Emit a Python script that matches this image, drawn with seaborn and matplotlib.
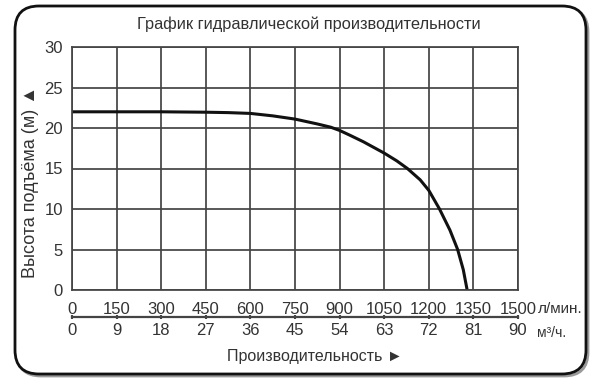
import matplotlib
matplotlib.use("Agg")
import matplotlib.pyplot as plt
import seaborn as sns
import pandas as pd
from matplotlib.patches import FancyBboxPatch

# ---- data ----
flow_lpm = [0, 150, 300, 450, 525, 600, 675, 750, 825, 870, 900, 935, 980, 1050, 1092, 1128,
            1171, 1200, 1236, 1271, 1297, 1316, 1329]
head_m = [22.0, 22.0, 22.0, 21.95, 21.9, 21.8, 21.5, 21.1, 20.5, 20.1, 19.7, 19.1, 18.3, 16.9, 15.95, 15.0,
          13.6, 12.3, 10.0, 7.4, 5.0, 2.5, 0.0]

lpm_ticks = [0, 150, 300, 450, 600, 750, 900, 1050, 1200, 1350, 1500]
m3h_ticks = [0, 9, 18, 27, 36, 45, 54, 63, 72, 81, 90]
head_ticks = [0, 5, 10, 15, 20, 25, 30]

title = "График гидравлической производительности"
ylabel = "Высота подъёма (м) ▲"
xlabel = "Производительность ►"
unit_lpm = "л/мин."
unit_m3h = "м³/ч."

sns.set_style("white")
plt.rcParams['font.family'] = ['Liberation Sans', 'DejaVu Sans']

W, H = 597, 391
fig = plt.figure(figsize=(W / 100, H / 100), dpi=100)

# background rounded frame
bg = fig.add_axes([0, 0, 1, 1], zorder=-1)
bg.set_xlim(0, W)
bg.set_ylim(H, 0)
bg.axis('off')
shadow = FancyBboxPatch((17, 8), 571, 368, boxstyle="round,pad=0,rounding_size=24",
                        fc='none', ec='#9a9a9a', lw=2.0)
bg.add_patch(shadow)
frame = FancyBboxPatch((15, 6), 571, 368, boxstyle="round,pad=0,rounding_size=24",
                       fc='white', ec='#111111', lw=2.0)
bg.add_patch(frame)

def px(x, y):
    return x / W, 1 - y / H

# main axes: x 72..518 px, y 47..290 px
ax = fig.add_axes([72 / W, 1 - 290 / H, 446 / W, 243 / H])
ax.set_facecolor('none')
df = pd.DataFrame({"flow": flow_lpm, "head": head_m})
sns.lineplot(data=df, x="flow", y="head", ax=ax, color='#111111', lw=2.2, sort=False)
ax.lines[-1].set_solid_joinstyle('round')

ax.set_xlim(0, 1500)
ax.set_ylim(0, 30)
ax.set_xticks(lpm_ticks)
ax.set_yticks(head_ticks)
ax.grid(True, color='#444444', lw=1.25)
for s in ax.spines.values():
    s.set_color('#444444')
    s.set_linewidth(1.25)
ax.tick_params(length=0, labelsize=12, colors='#333333')
ax.tick_params(axis='x', pad=8.5)
ax.tick_params(axis='y', pad=6.5)
ax.set_xlabel("")
ax.set_ylabel("")

# secondary flow axis in m3/h
sec = ax.secondary_xaxis(-27 / 243, functions=(lambda x: x * 0.06, lambda x: x / 0.06))
sec.set_xticks(m3h_ticks)
sec.spines['bottom'].set_color('#444444')
sec.spines['bottom'].set_linewidth(1.6)
sec.tick_params(direction='inout', length=3, width=1.5, color='#444444',
                pad=3, labelsize=12, labelcolor='#333333')

fig.text(*px(309, 24), title, ha='center', va='center', fontsize=11.8, color='#333333')
fig.text(*px(31, 182), ylabel, ha='center', va='center', rotation=90, fontsize=13, color='#333333')
fig.text(*px(315, 357), xlabel, ha='center', va='center', fontsize=11.5, color='#333333')
fig.text(*px(538, 309), unit_lpm, ha='left', va='center', fontsize=11, color='#333333')
fig.text(*px(537, 333), unit_m3h, ha='left', va='center', fontsize=10, color='#333333')

fig.savefig("out.png", dpi=100)
